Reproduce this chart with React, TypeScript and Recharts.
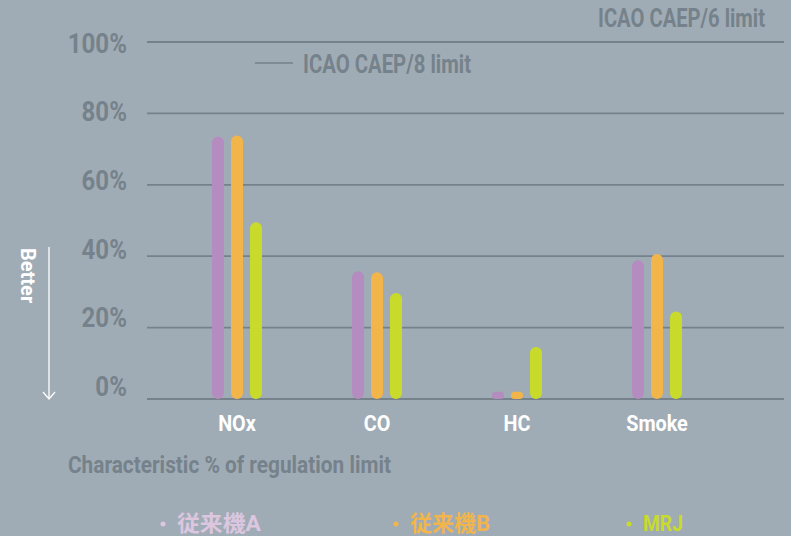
import { BarChart, Bar, XAxis, YAxis, CartesianGrid } from "recharts";

const CATEGORIES = ["NOx", "CO", "HC", "Smoke"];
const SERIES_A = [73.5, 35.8, 2, 38.9];
const SERIES_B = [73.8, 35.5, 2, 40.6];
const SERIES_MRJ = [49.5, 29.7, 14.6, 24.5];
const Y_TICKS = [0, 20, 40, 60, 80, 100];
const SERIES_NAMES = ["従来機A", "従来機B", "MRJ"];

const BG = "#a0acb5";
const GRAY = "#76828b";
const FONT = 'Roboto, "Noto Sans CJK JP", sans-serif';
const BAR_COLORS = ["#b48cbf", "#f2b54a", "#c9db2a"];
const LEGEND_COLORS = ["#dcc6e0", "#f2b54a", "#c9db2a"];

const data = CATEGORIES.map((name, i) => ({
  name,
  a: SERIES_A[i],
  b: SERIES_B[i],
  mrj: SERIES_MRJ[i],
}));

// labels sit on a slightly tighter spacing than the gridlines
function YTick({ y, payload }: any) {
  const cy = 42.5 + (y - 42) * (343.5 / 357);
  return (
    <text
      transform={`translate(127,${cy + 10}) scale(0.86,1)`}
      textAnchor="end"
      fill={GRAY}
      fontFamily={FONT}
      fontWeight="bold"
      fontSize={28}
    >
      {payload.value}%
    </text>
  );
}

function XTick({ x, payload }: any) {
  return (
    <text
      transform={`translate(${x},431) scale(0.9,1)`}
      textAnchor="middle"
      fill="#ffffff"
      fontFamily={FONT}
      fontWeight="bold"
      fontSize={22}
    >
      {payload.value}
    </text>
  );
}

const legendX = [163, 396, 629];
const legendW = [84, 80, 40];

export default function App() {
  return (
    <div
      style={{
        position: "relative",
        width: 791,
        height: 536,
        background: BG,
        overflow: "hidden",
      }}
    >
      <style>{"body{margin:0}"}</style>
      <BarChart
        width={791}
        height={536}
        data={data}
        margin={{ top: 42, right: 7, bottom: 0, left: 0 }}
        barSize={12}
        barGap={7}
      >
        <CartesianGrid vertical={false} stroke={GRAY} strokeWidth={1.8} />
        <YAxis
          width={147}
          domain={[0, 100]}
          ticks={Y_TICKS}
          axisLine={false}
          tickLine={false}
          tick={<YTick />}
        />
        <XAxis
          dataKey="name"
          height={137}
          axisLine={false}
          tickLine={false}
          padding={{ left: 20, right: 57 }}
          tick={<XTick />}
          interval={0}
        />
        <Bar dataKey="a" fill={BAR_COLORS[0]} radius={6} isAnimationActive={false} />
        <Bar dataKey="b" fill={BAR_COLORS[1]} radius={6} isAnimationActive={false} />
        <Bar dataKey="mrj" fill={BAR_COLORS[2]} radius={6} isAnimationActive={false} />
      </BarChart>

      <svg
        width={791}
        height={536}
        style={{ position: "absolute", left: 0, top: 0, pointerEvents: "none" }}
        fontFamily={FONT}
        fontWeight="bold"
      >
        {/* limit labels */}
        <text x={598} y={27} fontSize={25} fill={GRAY} textLength={167} lengthAdjust="spacingAndGlyphs">
          ICAO CAEP/6 limit
        </text>
        <line x1={255} y1={63} x2={293} y2={63} stroke={GRAY} strokeWidth={1.5} />
        <text x={303} y={73} fontSize={25} fill={GRAY} textLength={168} lengthAdjust="spacingAndGlyphs">
          ICAO CAEP/8 limit
        </text>

        {/* better arrow */}
        <text transform="translate(21,248) rotate(90)" fontSize={20} fill="#fff">
          Better
        </text>
        <line x1={49} y1={247} x2={49} y2={399} stroke="#fff" strokeWidth={1.3} />
        <polyline points="43,392 49,399 55,392" fill="none" stroke="#fff" strokeWidth={1.3} />

        <text x={68} y={473} fontSize={24} fill={GRAY} textLength={323} lengthAdjust="spacingAndGlyphs">
          Characteristic % of regulation limit
        </text>

        {/* legend */}
        {SERIES_NAMES.map((name, i) => (
          <g key={name}>
            <circle cx={legendX[i]} cy={524} r={2.5} fill={LEGEND_COLORS[i]} />
            <text
              x={legendX[i] + 14}
              y={531}
              fontSize={22}
              fill={LEGEND_COLORS[i]}
              textLength={legendW[i]}
              lengthAdjust="spacingAndGlyphs"
            >
              {name}
            </text>
          </g>
        ))}
      </svg>
    </div>
  );
}
